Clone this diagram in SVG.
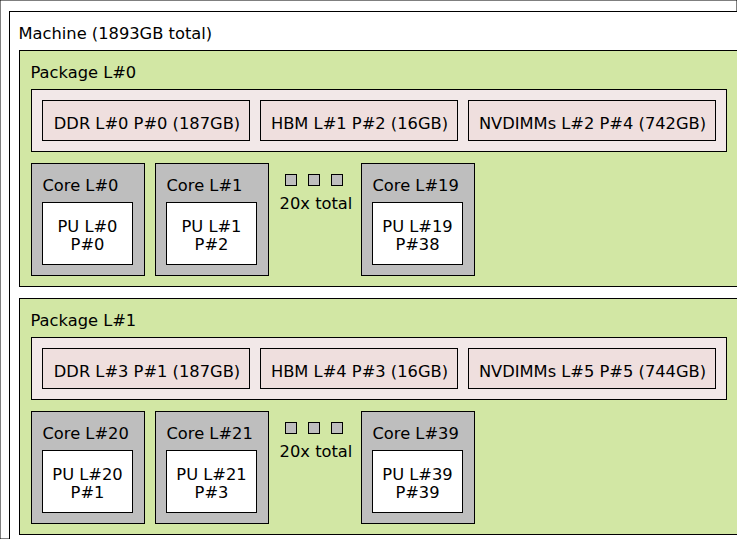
<svg xmlns="http://www.w3.org/2000/svg" width="737" height="539" viewBox="0 0 737 539">
<style>
rect{stroke:#000;stroke-width:1}
text{font-family:"DejaVu Sans",sans-serif;font-size:16.3px;fill:#000}
.machine{fill:#fff}
.pkg{fill:#d2e7a4}
.mems{fill:#f2e8e8}
.numa{fill:#efdfde}
.core{fill:#bebebe}
.pu{fill:#fff}
.dot{fill:#bebebe}
.c{text-anchor:middle}
</style>
<rect width="737" height="539" fill="#fff" stroke="none"/>
<g id="machine">
<rect class="machine" x="9.5" y="11.5" width="800" height="600"/>
<text x="18.5" y="39.3">Machine (1893GB total)</text>
</g>
<g id="package0">
<rect class="pkg" x="19.5" y="50.5" width="790" height="236"/>
<text x="30.5" y="77.5">Package L#0</text>
</g>
<g id="memories0">
<rect class="mems" x="31.5" y="89.5" width="695" height="62"/>
</g>
<g id="ddr0"><rect class="numa" x="42.5" y="100.5" width="207" height="40"/><text class="c" x="147" y="129.3">DDR L#0 P#0 (187GB)</text></g>
<g id="hbm1"><rect class="numa" x="260.5" y="100.5" width="197" height="40"/><text class="c" x="359.5" y="129.3">HBM L#1 P#2 (16GB)</text></g>
<g id="nvdimm2"><rect class="numa" x="468.5" y="100.5" width="247" height="40"/><text class="c" x="592.5" y="129.3">NVDIMMs L#2 P#4 (742GB)</text></g>
<g id="core0"><rect class="core" x="31.5" y="163.5" width="113" height="112"/><text x="42.5" y="191">Core L#0</text></g>
<g id="pu0"><rect class="pu" x="42.5" y="202.5" width="90" height="62"/><text class="c" x="87.5" y="231.7">PU L#0</text><text class="c" x="87.5" y="250">P#0</text></g>
<g id="core1"><rect class="core" x="155.5" y="163.5" width="113" height="112"/><text x="166.5" y="191">Core L#1</text></g>
<g id="pu1"><rect class="pu" x="166.5" y="202.5" width="90" height="62"/><text class="c" x="211.5" y="231.7">PU L#1</text><text class="c" x="211.5" y="250">P#2</text></g>
<g id="more0"><rect class="dot" x="285.5" y="174.5" width="11" height="11"/><rect class="dot" x="308.5" y="174.5" width="11" height="11"/><rect class="dot" x="331.5" y="174.5" width="11" height="11"/><text class="c" x="316" y="209">20x total</text></g>
<g id="core19"><rect class="core" x="361.5" y="163.5" width="113" height="112"/><text x="372.5" y="191">Core L#19</text></g>
<g id="pu19"><rect class="pu" x="372.5" y="202.5" width="90" height="62"/><text class="c" x="417.5" y="231.7">PU L#19</text><text class="c" x="417.5" y="250">P#38</text></g>

<g id="package1">
<rect class="pkg" x="19.5" y="298.5" width="790" height="236"/>
<text x="30.5" y="325.5">Package L#1</text>
</g>
<g id="memories1">
<rect class="mems" x="31.5" y="337.5" width="695" height="62"/>
</g>
<g id="ddr3"><rect class="numa" x="42.5" y="348.5" width="207" height="40"/><text class="c" x="147" y="377.3">DDR L#3 P#1 (187GB)</text></g>
<g id="hbm4"><rect class="numa" x="260.5" y="348.5" width="197" height="40"/><text class="c" x="359.5" y="377.3">HBM L#4 P#3 (16GB)</text></g>
<g id="nvdimm5"><rect class="numa" x="468.5" y="348.5" width="247" height="40"/><text class="c" x="592.5" y="377.3">NVDIMMs L#5 P#5 (744GB)</text></g>
<g id="core20"><rect class="core" x="31.5" y="411.5" width="113" height="112"/><text x="42.5" y="439">Core L#20</text></g>
<g id="pu20"><rect class="pu" x="42.5" y="450.5" width="90" height="62"/><text class="c" x="87.5" y="479.7">PU L#20</text><text class="c" x="87.5" y="498">P#1</text></g>
<g id="core21"><rect class="core" x="155.5" y="411.5" width="113" height="112"/><text x="166.5" y="439">Core L#21</text></g>
<g id="pu21"><rect class="pu" x="166.5" y="450.5" width="90" height="62"/><text class="c" x="211.5" y="479.7">PU L#21</text><text class="c" x="211.5" y="498">P#3</text></g>
<g id="more1"><rect class="dot" x="285.5" y="422.5" width="11" height="11"/><rect class="dot" x="308.5" y="422.5" width="11" height="11"/><rect class="dot" x="331.5" y="422.5" width="11" height="11"/><text class="c" x="316" y="457">20x total</text></g>
<g id="core39"><rect class="core" x="361.5" y="411.5" width="113" height="112"/><text x="372.5" y="439">Core L#39</text></g>
<g id="pu39"><rect class="pu" x="372.5" y="450.5" width="90" height="62"/><text class="c" x="417.5" y="479.7">PU L#39</text><text class="c" x="417.5" y="498">P#39</text></g>
<g id="connectors"/>
</svg>
